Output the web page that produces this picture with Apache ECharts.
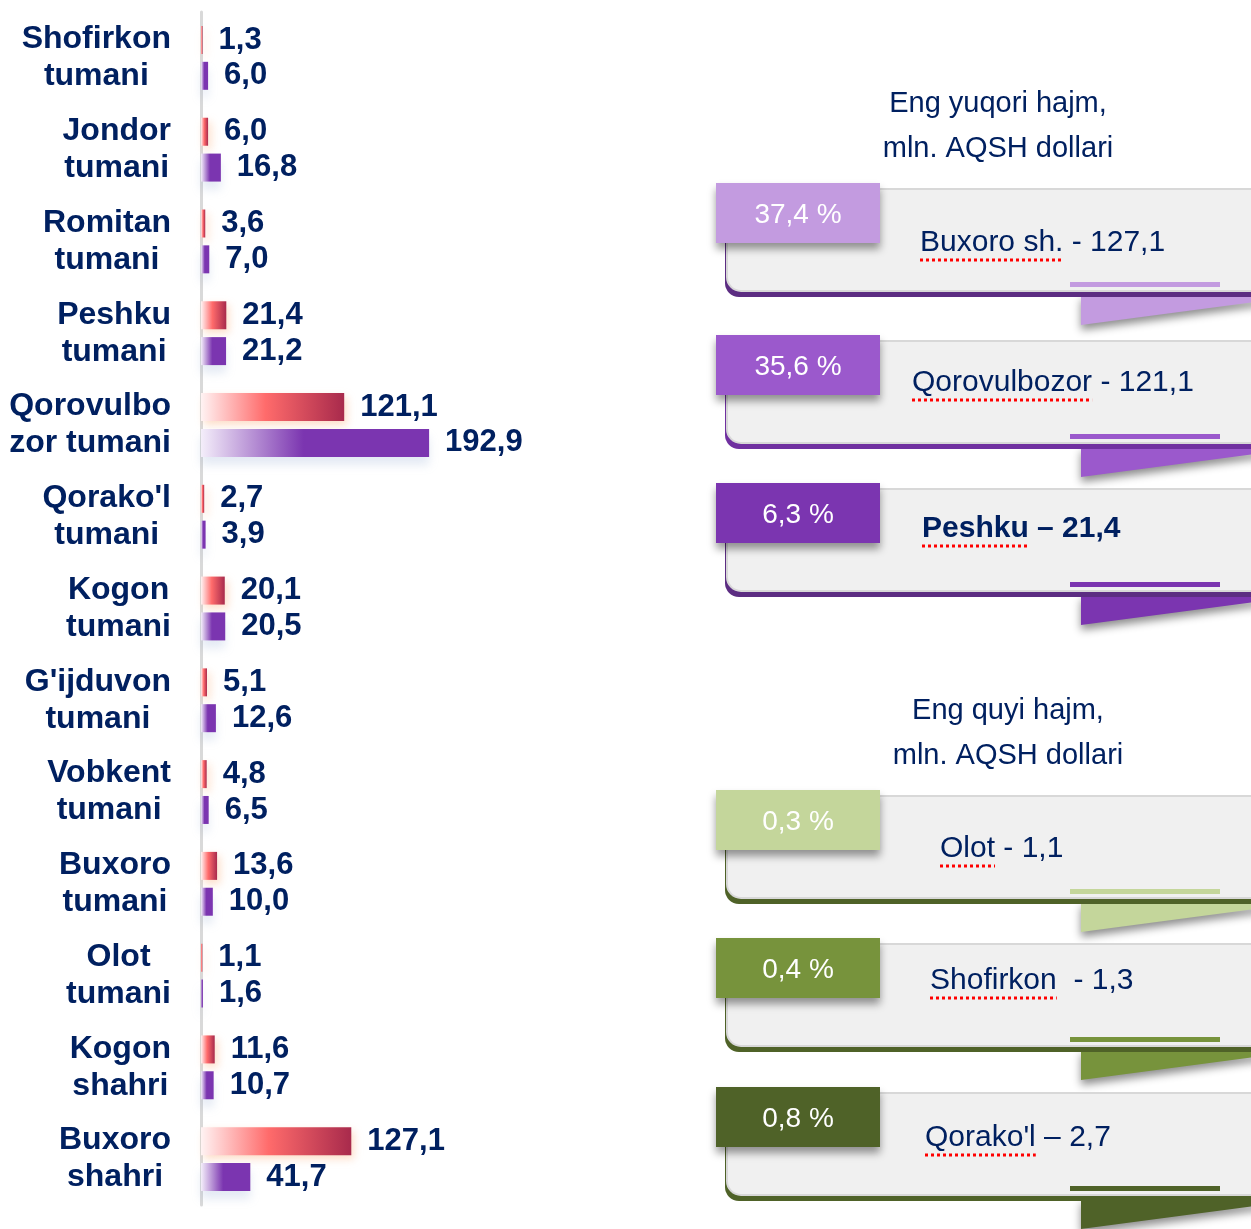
<!DOCTYPE html>
<html lang="uz">
<head>
<meta charset="utf-8">
<title>Buxoro viloyati</title>
<script src="https://cdn.jsdelivr.net/npm/echarts@6/dist/echarts.min.js"></script>
<style>
    html, body, #main {
        width: 100%;
        height: 100%;
        margin: 0;
        padding: 0;
        background: #fff;
    }
</style>
</head>
<body>
<div id="main"></div>
<script>
    // bar chart data
    var categories = ['Shofirkon\ntumani', 'Jondor\ntumani', 'Romitan\ntumani', 'Peshku\ntumani',
        'Qorovulbo\nzor tumani', "Qorako'l\ntumani", 'Kogon\ntumani', "G'ijduvon\ntumani",
        'Vobkent\ntumani', 'Buxoro\ntumani', 'Olot\ntumani', 'Kogon\nshahri', 'Buxoro\nshahri'];
    var redValues = [1.3, 6.0, 3.6, 21.4, 121.1, 2.7, 20.1, 5.1, 4.8, 13.6, 1.1, 11.6, 127.1];
    var purpleValues = [6.0, 16.8, 7.0, 21.2, 192.9, 3.9, 20.5, 12.6, 6.5, 10.0, 1.6, 10.7, 41.7];

    // right side boxes
    var topTitle = ['Eng yuqori hajm,', 'mln. AQSH dollari'];
    var lowTitle = ['Eng quyi hajm,', 'mln. AQSH dollari'];
    var shares = ['37,4 %', '35,6 %', '6,3 %', '0,3 %', '0,4 %', '0,8 %'];
    var names = ['Buxoro sh.', 'Qorovulbozor', 'Peshku', 'Olot', 'Shofirkon', "Qorako'l"];
    var seps = [' - ', ' - ', ' – ', ' - ', '  - ', ' – '];
    var values = [127.1, 121.1, 21.4, 1.1, 1.3, 2.7];

    var NAVY = '#002060';
    var FONT = "'Liberation Sans', Arial, sans-serif";

    function fmt(v) { return v.toFixed(1).replace('.', ','); }

    var ctx = document.createElement('canvas').getContext('2d');
    function textW(s, size, weight) {
        ctx.font = weight + ' ' + size + 'px ' + FONT;
        return ctx.measureText(s).width;
    }

    // box layout
    var tabTops = [183, 335, 483, 790, 938, 1087];
    var textX = [920, 912, 922, 940, 930, 925];
    var textDy = [60, 48, 46, 59, 43, 51];
    var boldText = [false, false, true, false, false, false];
    var tabColors = ['#c39be0', '#9b59cc', '#7b35b0', '#c4d69b', '#77933c', '#4f6228'];
    var rimColors = ['#5c2d82', '#7030a0', '#5c2d82', '#4f6228', '#4f6228', '#4f6228'];

    function box(i) {
        var t = tabTops[i], c = tabColors[i];
        var bodyTop = t + 6, lineTop = t + 108, lineBot = lineTop + 6;
        var els = [];
        // ribbon fold under the box
        els.push({
            type: 'polygon',
            shape: {points: [[1081, lineBot - 2], [1262, lineBot - 2], [1262, lineBot + 4], [1081, lineBot + 28]]},
            style: {fill: c, shadowBlur: 8, shadowOffsetY: 5, shadowColor: 'rgba(0,0,0,0.45)'}
        });
        // dark rim
        els.push({
            type: 'rect',
            shape: {x: 725, y: bodyTop + 4, width: 545, height: lineBot - bodyTop - 4, r: 14},
            style: {fill: rimColors[i]}
        });
        // grey body
        els.push({
            type: 'rect',
            shape: {x: 727, y: bodyTop, width: 545, height: lineTop - bodyTop, r: 14},
            style: {fill: '#f0f0f0', stroke: '#d8d8d8', lineWidth: 2}
        });
        els.push({
            type: 'rect',
            shape: {x: 1070, y: lineTop - 9, width: 150, height: 5},
            style: {fill: c}
        });
        // percent tab
        els.push({
            type: 'rect',
            shape: {x: 716, y: t, width: 164, height: 60},
            style: {fill: c, shadowBlur: 8, shadowOffsetY: 6, shadowColor: 'rgba(0,0,0,0.4)'}
        });
        els.push({
            type: 'text',
            x: 798, y: t + 32,
            style: {
                text: shares[i], fill: '#fff', fontSize: 28, fontFamily: FONT,
                align: 'center', verticalAlign: 'middle', textAlign: 'center', textVerticalAlign: 'middle'
            }
        });
        var w = boldText[i] ? 'bold' : 'normal';
        var y = t + textDy[i];
        els.push({
            type: 'text',
            x: textX[i], y: y,
            style: {
                text: names[i] + seps[i] + fmt(values[i]), fill: NAVY, fontSize: 30, fontWeight: w,
                fontFamily: FONT, align: 'left', verticalAlign: 'middle', textAlign: 'left', textVerticalAlign: 'middle'
            }
        });
        // spell-check squiggle under the name
        els.push({
            type: 'line',
            shape: {x1: textX[i], y1: y + 17, x2: textX[i] + textW(names[i], 30, w), y2: y + 17},
            style: {stroke: '#ff0000', lineWidth: 3, lineDash: [3, 3]}
        });
        return els;
    }

    function title(lines, cx, y) {
        return lines.map(function (s, k) {
            return {
                type: 'text', x: cx, y: y + k * 45,
                style: {
                    text: s, fill: NAVY, fontSize: 29, fontFamily: FONT,
                    align: 'center', verticalAlign: 'middle', textAlign: 'center', textVerticalAlign: 'middle'
                }
            };
        });
    }

    var graphics = [].concat(title(topTitle, 998, 104), title(lowTitle, 1008, 711));
    for (var i = 0; i < shares.length; i++) graphics = graphics.concat(box(i));

    var labelStyle = {
        show: true, position: 'right', distance: 16,
        formatter: function (p) { return fmt(p.value); },
        fontSize: 31, fontWeight: 'bold', color: NAVY, fontFamily: FONT
    };

    var myChart = echarts.init(document.getElementById('main'));
    myChart.setOption({
        animation: false,
        grid: {left: 201, top: 12, width: 473, height: 1193},
        xAxis: {type: 'value', min: 0, max: 400, show: false},
        yAxis: {
            type: 'category',
            data: categories,
            inverse: true,
            axisLine: {show: true, lineStyle: {color: '#d9d9d9', width: 3}},
            axisTick: {show: false},
            splitLine: {show: false},
            axisLabel: {
                interval: 0,
                margin: 30,
                formatter: function (v) {
                    return v.split('\n').map(function (s) { return '{c|' + s + '}'; }).join('\n');
                },
                rich: {
                    c: {align: 'center', fontSize: 32, fontWeight: 'bold', color: NAVY, fontFamily: FONT, lineHeight: 37}
                }
            }
        },
        series: [
            {
                type: 'bar',
                data: redValues,
                barWidth: 28,
                barGap: '28%',
                itemStyle: {
                    color: new echarts.graphic.LinearGradient(0, 0, 1, 0, [
                        {offset: 0, color: '#fff3f3'},
                        {offset: 0.45, color: '#ff6b6b'},
                        {offset: 1, color: '#a82a4c'}
                    ]),
                    shadowBlur: 8, shadowOffsetX: 3, shadowOffsetY: 4,
                    shadowColor: 'rgba(250,160,100,0.35)'
                },
                label: labelStyle
            },
            {
                type: 'bar',
                data: purpleValues,
                barWidth: 28,
                barGap: '28%',
                itemStyle: {
                    color: new echarts.graphic.LinearGradient(0, 0, 1, 0, [
                        {offset: 0, color: '#f4eefa'},
                        {offset: 0.45, color: '#7b35b0'},
                        {offset: 1, color: '#7b35b0'}
                    ]),
                    shadowBlur: 10, shadowOffsetY: 8,
                    shadowColor: 'rgba(120,150,200,0.2)'
                },
                label: labelStyle
            }
        ],
        graphic: graphics
    });
</script>
</body>
</html>
